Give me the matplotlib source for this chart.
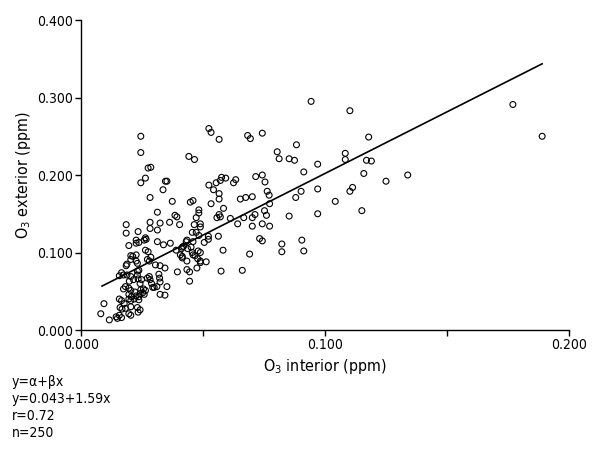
import numpy as np
import matplotlib
matplotlib.use("Agg")
import matplotlib.pyplot as plt

plt.rcParams['font.family'] = ['Liberation Sans Narrow', 'DejaVu Sans']
plt.rcParams['font.stretch'] = 'condensed'

# O3 interior (x) and exterior (y), ppm
o3_interior = [
    0.0245, 0.0245, 0.0275, 0.0286, 0.0264, 0.0245, 0.0346, 0.0352, 0.0336, 0.0283,
    0.0374, 0.0442, 0.0313, 0.0385, 0.0393, 0.0943, 0.0524, 0.0533, 0.0566, 0.0683,
    0.0694, 0.0743, 0.0465, 0.0804, 0.0812, 0.0883, 0.0853, 0.0875, 0.0970, 0.0913,
    0.0576, 0.0593, 0.0571, 0.0554, 0.0524, 0.0634, 0.0625, 0.0716, 0.0743, 0.0754,
    0.0543, 0.0566, 0.0763, 0.0771, 0.0448, 0.0459, 0.0566, 0.0533, 0.0653, 0.0675,
    0.0702, 0.0584, 0.0773, 0.0880, 0.0902, 0.0970, 0.0483, 0.0483, 0.0566, 0.0571,
    0.0557, 0.0612, 0.0667, 0.0702, 0.0752, 0.0760, 0.0853, 0.0970, 0.0472, 0.0489,
    0.0489, 0.0563, 0.0522, 0.0505, 0.0522, 0.0489, 0.0582, 0.0489, 0.0489, 0.0513,
    0.0574, 0.0661, 0.0691, 0.0732, 0.0743, 0.0823, 0.0823, 0.0905, 0.0913, 0.0773,
    0.0743, 0.0702, 0.0713, 0.0642, 0.0464, 0.0404, 0.0456, 0.0483, 0.0431, 0.0459,
    0.0415, 0.0412, 0.0437, 0.0456, 0.0480, 0.0467, 0.0407, 0.0415, 0.0478, 0.0434,
    0.0475, 0.0445, 0.0445, 0.0185, 0.0283, 0.0324, 0.0363, 0.0283, 0.0313, 0.0234,
    0.0264, 0.0267, 0.0237, 0.0313, 0.0338, 0.0366, 0.0434, 0.0196, 0.0264, 0.0275,
    0.0451, 0.0204, 0.0226, 0.0280, 0.0226, 0.0231, 0.0324, 0.0237, 0.0231, 0.0185,
    0.0344, 0.0395, 0.0434, 0.0280, 0.0319, 0.0324, 0.0283, 0.0231, 0.0234, 0.0166,
    0.0174, 0.0188, 0.0204, 0.0215, 0.0198, 0.0174, 0.0182, 0.0196, 0.0204, 0.0221,
    0.0245, 0.0256, 0.0264, 0.0294, 0.0300, 0.0352, 0.0196, 0.0207, 0.0226, 0.0237,
    0.0237, 0.0218, 0.0242, 0.0324, 0.0344, 0.0166, 0.0157, 0.0196, 0.0204, 0.0177,
    0.0160, 0.0168, 0.0182, 0.0204, 0.0231, 0.0234, 0.0094, 0.0081, 0.0116, 0.0144,
    0.0157, 0.0166, 0.0149, 0.0204, 0.0196, 0.0188, 0.0212, 0.0204, 0.0157, 0.0185,
    0.0226, 0.0226, 0.0472, 0.0259, 0.0420, 0.0272, 0.0286, 0.0305, 0.0390, 0.0415,
    0.0459, 0.0322, 0.0272, 0.0289, 0.0311, 0.0253, 0.0259, 0.0242, 0.0242, 0.0248,
    0.1102, 0.1770, 0.1890, 0.1179, 0.1083, 0.1083, 0.1170, 0.1190, 0.1159, 0.1250,
    0.1339, 0.1102, 0.1113, 0.1042, 0.1151,
]
o3_exterior = [
    0.250, 0.229, 0.209, 0.210, 0.196, 0.190, 0.192, 0.192, 0.181, 0.171,
    0.166, 0.224, 0.152, 0.148, 0.146, 0.295, 0.260, 0.255, 0.246, 0.251,
    0.247, 0.254, 0.220, 0.230, 0.221, 0.239, 0.221, 0.219, 0.214, 0.204,
    0.197, 0.196, 0.193, 0.190, 0.187, 0.194, 0.190, 0.198, 0.200, 0.191,
    0.181, 0.176, 0.179, 0.174, 0.165, 0.167, 0.169, 0.163, 0.169, 0.171,
    0.172, 0.157, 0.163, 0.171, 0.179, 0.182, 0.155, 0.151, 0.149, 0.146,
    0.145, 0.144, 0.145, 0.145, 0.154, 0.148, 0.147, 0.150, 0.145, 0.137,
    0.133, 0.121, 0.121, 0.113, 0.117, 0.100, 0.103, 0.089, 0.087, 0.088,
    0.076, 0.077, 0.098, 0.118, 0.115, 0.111, 0.101, 0.116, 0.102, 0.134,
    0.137, 0.134, 0.149, 0.137, 0.136, 0.136, 0.126, 0.122, 0.114, 0.114,
    0.107, 0.105, 0.105, 0.100, 0.102, 0.096, 0.097, 0.093, 0.092, 0.089,
    0.080, 0.075, 0.063, 0.136, 0.139, 0.138, 0.139, 0.131, 0.129, 0.127,
    0.119, 0.117, 0.113, 0.114, 0.110, 0.112, 0.116, 0.109, 0.103, 0.101,
    0.107, 0.096, 0.097, 0.089, 0.089, 0.086, 0.083, 0.077, 0.076, 0.083,
    0.080, 0.075, 0.078, 0.069, 0.072, 0.062, 0.065, 0.071, 0.066, 0.074,
    0.071, 0.071, 0.069, 0.065, 0.063, 0.053, 0.056, 0.054, 0.051, 0.049,
    0.052, 0.053, 0.051, 0.055, 0.055, 0.056, 0.046, 0.043, 0.044, 0.043,
    0.039, 0.040, 0.047, 0.046, 0.045, 0.038, 0.040, 0.040, 0.038, 0.034,
    0.029, 0.027, 0.028, 0.030, 0.029, 0.023, 0.034, 0.021, 0.013, 0.017,
    0.019, 0.016, 0.015, 0.019, 0.021, 0.085, 0.095, 0.091, 0.070, 0.125,
    0.116, 0.112, 0.126, 0.116, 0.108, 0.091, 0.094, 0.084, 0.103, 0.095,
    0.097, 0.067, 0.067, 0.060, 0.056, 0.048, 0.046, 0.026, 0.060, 0.065,
    0.283, 0.291, 0.250, 0.249, 0.228, 0.220, 0.219, 0.218, 0.202, 0.192,
    0.200, 0.179, 0.184, 0.166, 0.154,
]

alpha, beta = 0.043, 1.59
fit_x = [0.0086, 0.189]
x_ticks = [0.0, 0.05, 0.1, 0.15, 0.2]
x_labels = ['0.000', '', '0.100', '', '0.200']
y_ticks = [0.0, 0.1, 0.2, 0.3, 0.4]
y_labels = ['0.000', '0.100', '0.200', '0.300', '0.400']
stats_lines = ['y=α+βx', 'y=0.043+1.59x', 'r=0.72', 'n=250']

fig = plt.figure(figsize=(5.94, 4.53), dpi=100)
ax = fig.add_axes([0.1364, 0.2715, 0.8215, 0.6843])

ax.scatter(o3_interior, o3_exterior, s=18, facecolors='none',
           edgecolors='black', linewidths=0.8, zorder=3)
fit_y = [alpha + beta * v for v in fit_x]
ax.plot(fit_x, fit_y, color='black', linewidth=1.2, zorder=2)

ax.set_xlim(0, 0.2)
ax.set_ylim(0, 0.4)
ax.set_xticks(x_ticks)
ax.set_xticklabels(x_labels)
ax.set_yticks(y_ticks)
ax.set_yticklabels(y_labels)
ax.tick_params(direction='out', length=4, width=1, labelsize=10, colors='black', pad=2)

for side in ['top', 'right']:
    ax.spines[side].set_visible(False)
for side in ['left', 'bottom']:
    ax.spines[side].set_linewidth(1)

ax.set_xlabel('O$_3$ interior (ppm)', fontsize=11.5, labelpad=3)
ax.set_ylabel('O$_3$ exterior (ppm)', fontsize=11.5, labelpad=3)

for i, line in enumerate(stats_lines):
    fig.text(12 / 594, 1 - (382 + 17 * i) / 453, line, fontsize=10,
             ha='left', va='center')

fig.savefig('out.png', dpi=100)
